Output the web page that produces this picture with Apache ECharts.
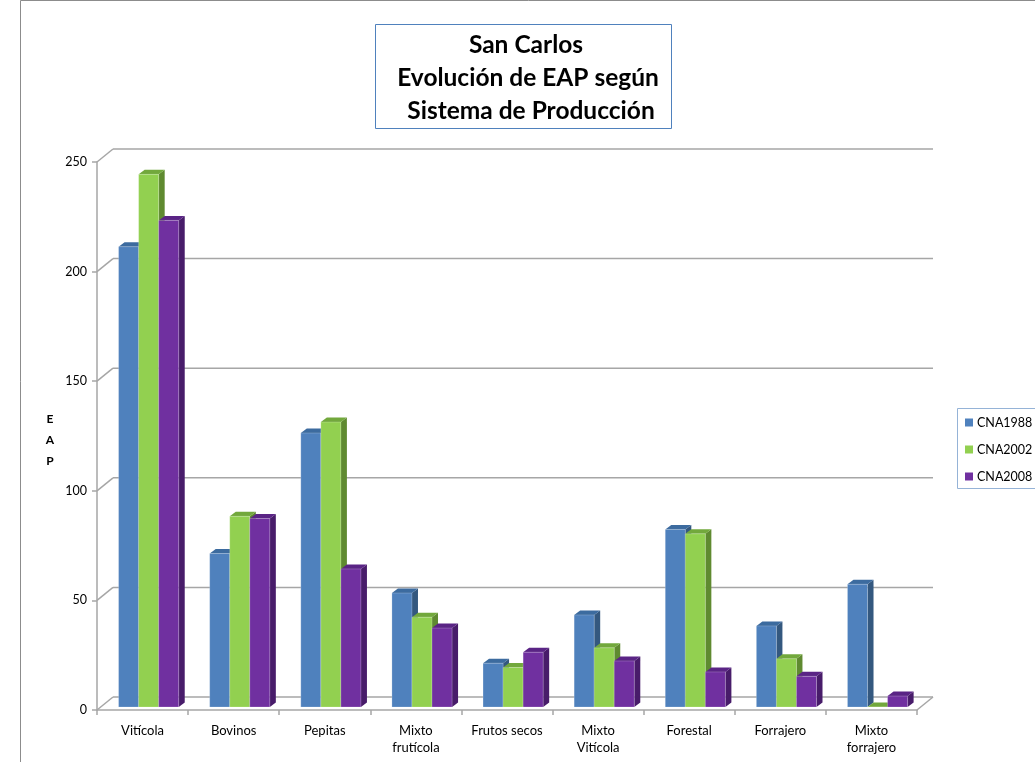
<!DOCTYPE html>
<html>
<head>
<meta charset="utf-8">
<script src="https://cdn.jsdelivr.net/npm/echarts@6/dist/echarts.min.js"></script>
<style>html,body{margin:0;padding:0;background:#fff}#c{width:1035px;height:762px}</style>
</head>
<body>
<div id="c"></div>
<script>
const categories = ['Vitícola','Bovinos','Pepitas','Mixto\nfrutícola','Frutos secos','Mixto\nVitícola','Forestal','Forrajero','Mixto\nforrajero'];
const cna1988 = [210, 70, 125, 52, 20, 42, 81, 37, 56];
const cna2002 = [243, 87, 130, 41, 18, 27, 79, 22, 0];
const cna2008 = [222, 86, 63, 36, 25, 21, 16, 14, 5];
const seriesNames = ['CNA1988','CNA2002','CNA2008'];
const yTicks = [0, 50, 100, 150, 200, 250];

const FONT = 'Lato, "Open Sans", sans-serif';
const WALL_DX = 16, WALL_DY = -13;
const BAR_DX = 6, BAR_DY = -4.5, BAR_SHIFT = -3;
const palette = [
  {front:'#4F81BD', top:'#3C6B9F', side:'#34587F'},
  {front:'#92D050', top:'#72A83C', side:'#5F8A30'},
  {front:'#7030A0', top:'#5A2485', side:'#481C6A'}
];

function gridRender(params, api){
  const v = api.value(1);
  const p0 = api.coord([0, v]);
  const bw = api.size([1, 0])[0];
  const pN = api.coord([categories.length - 1, v]);
  const xL = p0[0] - bw/2, xR = pN[0] + bw/2, y = p0[1];
  const st = {stroke:'#A6A6A6', lineWidth:1.5};
  const ch = [
    {type:'line', shape:{x1:xL, y1:y, x2:xL+WALL_DX, y2:y+WALL_DY}, style:st},
    {type:'line', shape:{x1:xL+WALL_DX, y1:y+WALL_DY, x2:xR+WALL_DX, y2:y+WALL_DY}, style:st}
  ];
  if (v === 0) ch.push({type:'line', shape:{x1:xR, y1:y, x2:xR+WALL_DX, y2:y+WALL_DY}, style:st});
  return {type:'group', children: ch};
}

function barRenderFactory(si){
  return function(params, api){
    const ci = api.value(0), v = api.value(1);
    const base = api.coord([ci, 0]);
    const topP = api.coord([ci, v]);
    const bw = api.size([1, 0])[0];
    const w = bw * 0.22;
    const x0 = base[0] - bw * 0.263 + si * w;
    const x1 = x0 + w;
    const yb = base[1] + BAR_SHIFT;
    const yt = topP[1] + BAR_SHIFT;
    const c = palette[si];
    return {type:'group', children:[
      {type:'polygon', shape:{points:[[x1,yt],[x1+BAR_DX,yt+BAR_DY],[x1+BAR_DX,yb+BAR_DY],[x1,yb]]}, style:{fill:c.side}},
      {type:'polygon', shape:{points:[[x0,yt],[x1,yt],[x1+BAR_DX,yt+BAR_DY],[x0+BAR_DX,yt+BAR_DY]]}, style:{fill:c.top}},
      {type:'rect', shape:{x:x0, y:yt, width:w, height:Math.max(yb-yt,0)}, style:{fill:c.front, stroke:'rgba(255,255,255,0.35)', lineWidth:0.6}}
    ]};
  };
}

const allData = [cna1988, cna2002, cna2008];
const chart = echarts.init(document.getElementById('c'), null, {renderer:'canvas'});
const option = {
  animation:false,
  backgroundColor:'#fff',
  grid:{left:97, right:118, top:162, bottom:52},
  legend:{
    data: seriesNames, orient:'vertical', left:957, top:409,
    icon:'rect', itemWidth:8, itemHeight:8, itemGap:14,
    padding:[7,4,8,8], borderWidth:0,
    textStyle:{fontFamily:FONT, fontSize:12.5, color:'#000', padding:[0,0,0,-1]},
    selectedMode:false
  },
  xAxis:{
    type:'category', data:categories,
    axisLine:{show:true, lineStyle:{color:'#A6A6A6', width:1.5}},
    axisTick:{show:true, interval:0, length:5, lineStyle:{color:'#A6A6A6', width:1.5}},
    axisLabel:{interval:0, margin:12, fontFamily:FONT, fontSize:13, color:'#000', lineHeight:17},
    splitLine:{show:false}
  },
  yAxis:{
    type:'value', min:0, max:250, interval:50,
    axisLine:{show:true, lineStyle:{color:'#A6A6A6', width:1.5}},
    axisTick:{show:true, length:5, lineStyle:{color:'#A6A6A6', width:1.5}},
    axisLabel:{margin:10, fontFamily:FONT, fontSize:12.5, color:'#000'},
    splitLine:{show:false}
  },
  graphic:[
    {type:'rect', shape:{x:20.5, y:0.5, width:1100, height:800}, style:{fill:'none', stroke:'#8C8C8C', lineWidth:1}, z:-1, silent:true},
    {type:'rect', shape:{x:957.5, y:408.5, width:120, height:80}, style:{fill:'none', stroke:'#95B3D7', lineWidth:1}, silent:true},
    {type:'rect', shape:{x:375.5, y:24.5, width:296, height:104}, style:{fill:'#fff', stroke:'#4F81BD', lineWidth:1}, silent:true},
    {type:'text', x:526, y:45, style:{text:'San Carlos', font:'bold 24.5px '+FONT, fill:'#000', textAlign:'center', textVerticalAlign:'middle'}, silent:true},
    {type:'text', x:528, y:78, style:{text:'Evolución de EAP según', font:'bold 24.5px '+FONT, fill:'#000', textAlign:'center', textVerticalAlign:'middle'}, silent:true},
    {type:'text', x:531, y:111, style:{text:'Sistema de Producción', font:'bold 24.5px '+FONT, fill:'#000', textAlign:'center', textVerticalAlign:'middle'}, silent:true},
    {type:'text', x:50, y:440, style:{text:'E\nA\nP', font:'bold 12px '+FONT, fill:'#000', textAlign:'center', textVerticalAlign:'middle', lineHeight:21}, silent:true}
  ],
  series:[
    {type:'custom', name:'grid3d', silent:true, clip:false, z:1, renderItem:gridRender, data: yTicks.map(v => [0, v]), encode:{x:0, y:1}},
    ...seriesNames.map((n, si) => ({
      type:'custom', name:n, clip:false, z:2 + si, silent:true,
      itemStyle:{color: palette[si].front},
      renderItem: barRenderFactory(si),
      encode:{x:0, y:1},
      data: allData[si].map((v, i) => [i, v])
    }))
  ]
};
chart.setOption(option);
</script>
</body>
</html>
